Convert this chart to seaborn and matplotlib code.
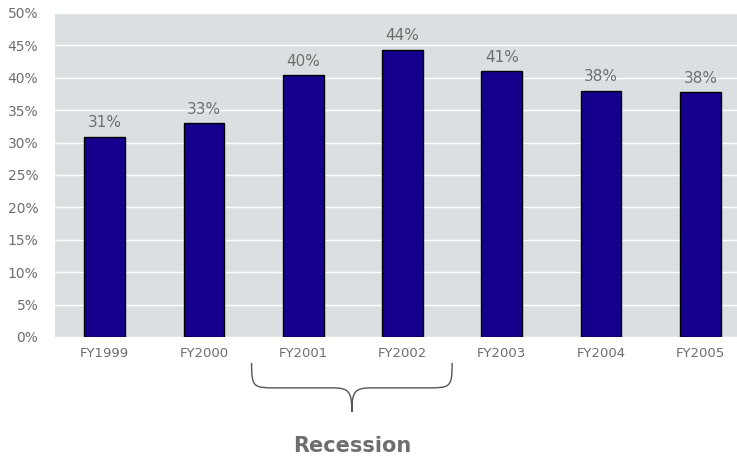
import numpy as np
import pandas as pd
import matplotlib.pyplot as plt
import seaborn as sns
from matplotlib.path import Path
from matplotlib.patches import PathPatch
import matplotlib.transforms as mtransforms

sns.set_style("white")
plt.rcParams['font.family'] = ['DejaVu Sans']

# Data
years = ['FY1999', 'FY2000', 'FY2001', 'FY2002', 'FY2003', 'FY2004', 'FY2005']
share = [30.9, 33.0, 40.4, 44.3, 41.0, 38.0, 37.8]
labels = ['31%', '33%', '40%', '44%', '41%', '38%', '38%']
yticks = [0, 5, 10, 15, 20, 25, 30, 35, 40, 45, 50]

df = pd.DataFrame({'year': years, 'share': share})

gray = '#6e6e6e'
fig = plt.figure(figsize=(7.37, 4.59), dpi=100)
ax = fig.add_axes([0.0746, 0.2658, 0.943, 0.706])
ax.set_facecolor('#dae0e2')

sns.barplot(data=df, x='year', y='share', color='#14008c', saturation=1,
            width=0.41, edgecolor='black', linewidth=1, ax=ax, zorder=3)

ax.set_ylim(0, 50)
ax.set_xlim(-0.5, 6.5)
ax.set_yticks(yticks)
ax.set_yticklabels([f'{t}%' for t in yticks])
ax.yaxis.grid(True, color='white', linewidth=1, zorder=0)
ax.set_axisbelow(True)
ax.tick_params(axis='y', length=0, pad=12, labelsize=10, labelcolor=gray)
ax.tick_params(axis='x', length=0, pad=7, labelsize=9.5, labelcolor=gray)
ax.set_xlabel('')
ax.set_ylabel('')
for s in ax.spines.values():
    s.set_visible(False)

# value labels above bars
for i, (v, lab) in enumerate(zip(share, labels)):
    ax.text(i, v + 1.0, lab, ha='center', va='bottom', fontsize=11, color=gray)

# curly brace under FY2001-FY2002
trans = mtransforms.blended_transform_factory(ax.transData, ax.transAxes)
x0, x1, xm = 1.48, 3.50, 2.49
ytop, ymid, ytip = -0.08, -0.157, -0.231
verts = [
    (x0, ytop),
    (x0, ymid), (x0 + 0.02, ymid), (x0 + 0.25, ymid),
    (xm - 0.2, ymid),
    (xm - 0.03, ymid), (xm, ymid - 0.01), (xm, ytip),
    (xm, ymid - 0.01), (xm + 0.03, ymid), (xm + 0.2, ymid),
    (x1 - 0.25, ymid),
    (x1 - 0.02, ymid), (x1, ymid), (x1, ytop),
]
codes = [Path.MOVETO,
         Path.CURVE4, Path.CURVE4, Path.CURVE4,
         Path.LINETO,
         Path.CURVE4, Path.CURVE4, Path.CURVE4,
         Path.CURVE4, Path.CURVE4, Path.CURVE4,
         Path.LINETO,
         Path.CURVE4, Path.CURVE4, Path.CURVE4]
brace = PathPatch(Path(verts, codes), facecolor='none', edgecolor='#555555',
                  linewidth=1, transform=trans, clip_on=False)
ax.add_patch(brace)

ax.text(xm, -0.336, 'Recession', transform=trans, ha='center', va='center',
        fontsize=15, fontweight='bold', color=gray)

fig.savefig('out.png', dpi=100)
